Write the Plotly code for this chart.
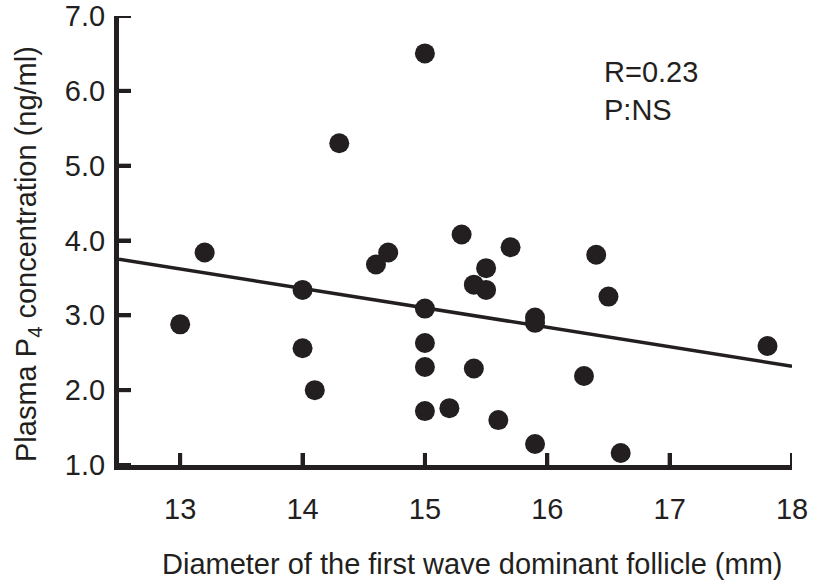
import plotly.graph_objects as go

# Data
follicle_diameter_mm = [13.0, 13.2, 14.0, 14.0, 14.1, 14.3, 14.6, 14.7, 15.0, 15.0,
                        15.0, 15.0, 15.0, 15.2, 15.3, 15.4, 15.4, 15.5, 15.5, 15.6,
                        15.7, 15.9, 15.9, 15.9, 16.3, 16.4, 16.5, 16.6, 17.8]
plasma_p4_ng_ml = [2.88, 3.84, 3.34, 2.56, 2.00, 5.30, 3.68, 3.84, 6.50, 3.09,
                   2.63, 2.31, 1.72, 1.76, 4.08, 3.41, 2.29, 3.63, 3.34, 1.60,
                   3.91, 2.97, 2.90, 1.28, 2.19, 3.81, 3.25, 1.16, 2.59]

# Regression line (as drawn)
fit_intercept = 7.0
fit_slope = -0.26
fit_x_range = [12.5, 18.0]

x_ticks = [13, 14, 15, 16, 17, 18]
y_ticks = [1, 2, 3, 4, 5, 6, 7]

annotation_lines = ["R=0.23", "P:NS"]
x_title = "Diameter of the first wave dominant follicle (mm)"
y_title = "Plasma P<sub>4</sub> concentration (ng/ml)"

INK = "#231f20"
FONT = "Liberation Sans, Arial, Helvetica, sans-serif"
FS = 29

W, H = 816, 582
M = dict(l=119, r=24, t=16, b=117)
plot_w = W - M["l"] - M["r"]
plot_h = H - M["t"] - M["b"]
TICK_PX = 12

fit_y = [fit_intercept + fit_slope * x for x in fit_x_range]

fig = go.Figure()
fig.add_trace(go.Scatter(x=fit_x_range, y=fit_y, mode="lines",
                         line=dict(color=INK, width=3.5), showlegend=False,
                         hoverinfo="skip"))
fig.add_trace(go.Scatter(x=follicle_diameter_mm, y=plasma_p4_ng_ml, mode="markers",
                         marker=dict(color=INK, size=20, line=dict(width=0)),
                         showlegend=False))

# inward tick marks, one per tick value
for t in x_ticks:
    fig.add_shape(type="line", xref="x", yref="y domain", x0=t, x1=t,
                  y0=0, y1=TICK_PX / plot_h, line=dict(color=INK, width=4), layer="above")
for t in y_ticks:
    fig.add_shape(type="line", xref="x domain", yref="y", x0=0, x1=TICK_PX / plot_w,
                  y0=t, y1=t, line=dict(color=INK, width=4), layer="above")

fig.add_annotation(text="<br>".join(annotation_lines), x=16.45, y=6.0,
                   xref="x", yref="y", xanchor="left", yanchor="middle",
                   showarrow=False, align="left",
                   font=dict(size=FS, color=INK, family=FONT))
# axis titles
fig.add_annotation(text=x_title, x=0.525, y=-0.22, xref="paper", yref="paper",
                   xanchor="center", yanchor="middle", showarrow=False,
                   font=dict(size=FS, color=INK, family=FONT))
fig.add_annotation(text=y_title, x=0, xshift=-91, y=0.47, xref="paper", yref="paper",
                   xanchor="center", yanchor="middle", showarrow=False, textangle=-90,
                   font=dict(size=FS, color=INK, family=FONT))

fig.update_layout(
    template="none",
    width=W, height=H,
    margin=M,
    paper_bgcolor="white", plot_bgcolor="white",
    font=dict(family=FONT, color=INK, size=FS),
    showlegend=False,
    xaxis=dict(range=[12.5, 18.0], tickmode="array", tickvals=x_ticks,
               ticks="inside", ticklen=TICK_PX, tickwidth=4, tickcolor=INK,
               showline=True, linecolor=INK, linewidth=5,
               showgrid=False, zeroline=False,
               ticklabelstandoff=14,
               tickfont=dict(size=FS, color=INK, family=FONT)),
    yaxis=dict(range=[1.0, 7.0], tickmode="array", tickvals=y_ticks, tickformat=".1f",
               ticks="inside", ticklen=TICK_PX, tickwidth=4, tickcolor=INK,
               showline=True, linecolor=INK, linewidth=5,
               showgrid=False, zeroline=False,
               ticklabelstandoff=3,
               tickfont=dict(size=FS, color=INK, family=FONT)),
)

fig.write_html("out.html", post_script="document.body.style.margin='0';",
               config={"displayModeBar": False})
